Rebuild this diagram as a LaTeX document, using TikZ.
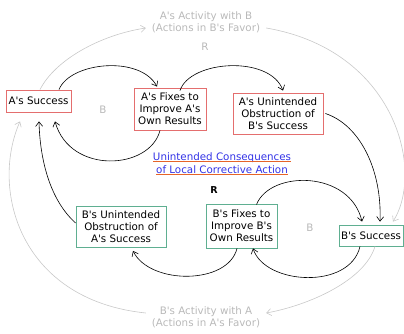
\documentclass[tikz,border=0pt]{standalone}
\usepackage{fontspec}
\setmainfont{DejaVu Sans}[Ligatures=TeXOff]
\usetikzlibrary{arrows.meta}
\definecolor{boxA}{RGB}{228,110,110}
\definecolor{boxB}{RGB}{95,175,145}
\definecolor{faint}{RGB}{185,185,185}
\definecolor{faintline}{RGB}{200,200,200}
\definecolor{linkblue}{RGB}{50,50,230}
\definecolor{linkline}{RGB}{230,100,40}
\begin{document}
\begin{tikzpicture}[x=1pt,y=-1pt,
  font=\fontsize{10.3}{12}\selectfont,
  box/.style={draw, line width=0.8pt, align=center, inner sep=0pt},
  abox/.style={box, draw=boxA},
  bbox/.style={box, draw=boxB},
  link/.style={line width=0.6pt, -{Straight Barb[length=4.5pt,width=7pt]}},
  flink/.style={link, draw=faintline},
  note/.style={text=faint, align=center, inner sep=0pt},
]
\useasboundingbox (0,0) rectangle (404,333);

% stocks of the two parties
\node[abox, minimum width=65pt, minimum height=22pt] (aSucc) at (38.5,101) {A's Success};
\node[abox, minimum width=72pt, minimum height=42pt] (aFix) at (170,109) {A's Fixes to\\Improve A's\\Own Results};
\node[abox, minimum width=90pt, minimum height=41pt] (aObs) at (278,113.5) {A's Unintended\\Obstruction of\\B's Success};
\node[bbox, minimum width=90pt, minimum height=41pt] (bObs) at (121,227) {B's Unintended\\Obstruction of\\A's Success};
\node[bbox, minimum width=71pt, minimum height=44pt] (bFix) at (241.5,226) {B's Fixes to\\Improve B's\\Own Results};
\node[bbox, minimum width=64pt, minimum height=21pt] (bSucc) at (371,235.5) {B's Success};

% faint outer loop labels
\node[note] (aAct) at (206,22) {A's Activity with B\\(Actions in B's Favor)};
\node[note] (bAct) at (206,317) {B's Activity with A\\(Actions in A's Favor)};
\node[note] (rTop) at (205,47) {R};
\node[note] (bLeft) at (103,110) {B};
\node[note] (bRight) at (310,228) {B};
\node[inner sep=0pt, font=\fontsize{9.5}{12}\selectfont\bfseries] (rMid) at (214,190) {R};

% title link
\node[anchor=base, text=linkblue, inner sep=0pt] (cons1) at (222,160) {Unintended Consequences};
\node[anchor=base, text=linkblue, inner sep=0pt] (cons2) at (222,173) {of Local Corrective Action};
\draw[linkline, line width=0.7pt] ([yshift=-1.6pt]cons1.base west) -- ([yshift=-1.6pt]cons1.base east);
\draw[linkline, line width=0.7pt] ([yshift=-1.6pt]cons2.base west) -- ([yshift=-1.6pt]cons2.base east);

% A's side
\draw[link] ([xshift=20.5pt]aSucc.north) .. controls (70,62) and (140,55) .. ([xshift=-13pt,yshift=1pt]aFix.north);
\draw[link] ([xshift=10pt,yshift=-3pt]aFix.north) .. controls (190,60) and (270,55) .. ([xshift=5pt,yshift=2pt]aObs.north);
\draw[link] ([xshift=-10pt]aFix.south) .. controls (150,170) and (70,175) .. ([xshift=16.5pt,yshift=-9pt]aSucc.south);
\draw[link] ([xshift=2pt]aObs.east) .. controls (360,125) and (382,170) .. ([xshift=9pt,yshift=3pt]bSucc.north);
\draw[link] ([yshift=4pt]bObs.west) .. controls (50,200) and (40,160) .. ([xshift=0.5pt,yshift=-9pt]aSucc.south);

% B's side
\draw[link] ([xshift=-4.5pt]bFix.south) .. controls (228,285) and (150,285) .. ([xshift=12pt,yshift=-3pt]bObs.south);
\draw[link] ([xshift=15pt,yshift=-1pt]bFix.north) .. controls (270,170) and (350,170) .. ([xshift=-9pt,yshift=3pt]bSucc.north);
\draw[link] ([xshift=-11pt]bSucc.south) .. controls (350,290) and (265,285) .. ([xshift=11.5pt]bFix.south);

% outer reinforcing loop
\draw[flink] ([xshift=1.5pt]aSucc.north) .. controls (55,60) and (100,35) .. ([xshift=-6pt,yshift=-6pt]aAct.west);
\draw[flink] ([xshift=6pt,yshift=-6pt]aAct.east) .. controls (395,50) and (425,170) .. ([xshift=22pt,yshift=3pt]bSucc.north);
\draw[flink] ([xshift=4pt]bSucc.south) .. controls (365,280) and (310,305) .. ([xshift=6pt,yshift=4pt]bAct.east);
\draw[flink] ([xshift=-6pt,yshift=4pt]bAct.west) .. controls (20,300) and (-10,190) .. ([xshift=-18.5pt,yshift=-9pt]aSucc.south);
\end{tikzpicture}
\end{document}
